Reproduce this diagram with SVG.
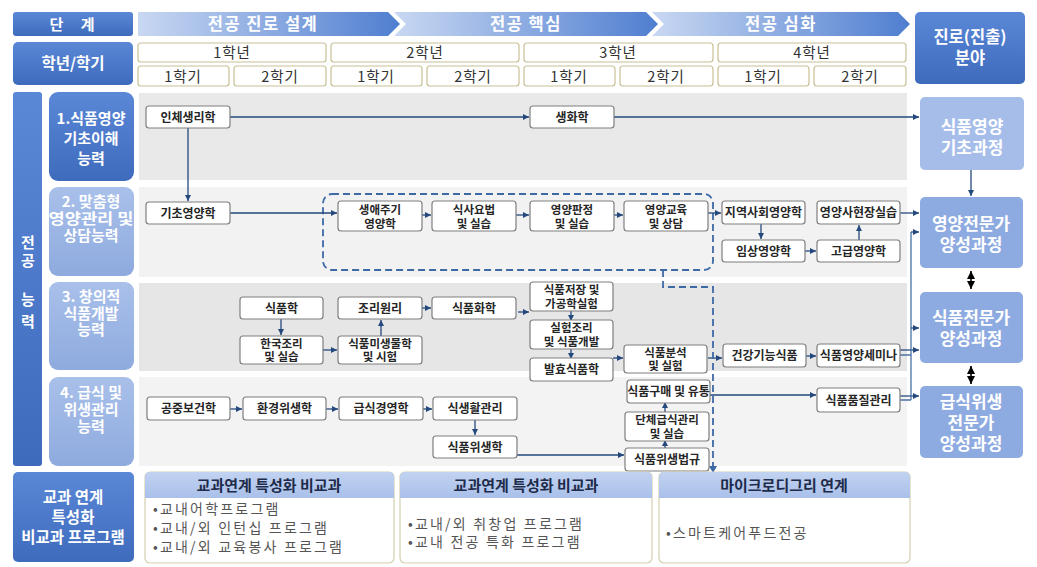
<svg xmlns="http://www.w3.org/2000/svg" width="1037" height="567" viewBox="0 0 1037 567">
<defs>
<style>
.t{font-family:"Noto Sans CJK KR","Noto Sans",sans-serif}
.nb rect{fill:#fff;stroke:#7f7f7f;stroke-width:1.2}
.nt{font-family:"Noto Sans CJK KR","Noto Sans",sans-serif;font-size:12px;font-weight:bold;fill:#262626;text-anchor:middle}
.n2{font-size:11.5px}
.hd{font-family:"Noto Sans CJK KR","Noto Sans",sans-serif;font-weight:bold;fill:#fff;text-anchor:middle}
.yr rect{fill:#fff;stroke:#c9c095;stroke-width:1.2}
.yt{font-family:"Noto Sans CJK KR","Noto Sans",sans-serif;font-size:14.5px;fill:#333;text-anchor:middle;letter-spacing:1px}
.ar{fill:none;stroke:#24497d;stroke-width:1.3;marker-end:url(#ah)}
.bk{fill:none;stroke:#000;stroke-width:1.6;marker-end:url(#bh);marker-start:url(#bs)}
.ds{fill:none;stroke:#3d69a6;stroke-width:1.8;stroke-dasharray:7 4}
.bl{font-family:"Noto Sans CJK KR","Noto Sans",sans-serif;font-size:14px;fill:#555;letter-spacing:2.2px}
.ph{font-family:"Noto Sans CJK KR","Noto Sans",sans-serif;font-size:15px;font-weight:bold;fill:#1e2b4a;text-anchor:middle}
</style>
<linearGradient id="dk" x1="0" y1="0" x2="0" y2="1"><stop offset="0" stop-color="#5a87d6"/><stop offset="1" stop-color="#3f6bbd"/></linearGradient>
<linearGradient id="lt" x1="0" y1="0" x2="0" y2="1"><stop offset="0" stop-color="#a9c0ea"/><stop offset="1" stop-color="#8eaade"/></linearGradient>
<linearGradient id="bd" x1="0" y1="0" x2="1" y2="0"><stop offset="0" stop-color="#c9d8f2"/><stop offset="1" stop-color="#4f7ed0"/></linearGradient>
<linearGradient id="ph" x1="0" y1="0" x2="0" y2="1"><stop offset="0" stop-color="#c2d3f1"/><stop offset="1" stop-color="#a9c0ea"/></linearGradient>
<marker id="ah" viewBox="0 0 10 10" refX="10" refY="5" markerWidth="7" markerHeight="6" markerUnits="userSpaceOnUse" orient="auto"><path d="M0,0 L10,5 L0,10 z" fill="#24497d"/></marker>
<marker id="bh" viewBox="0 0 10 10" refX="10" refY="5" markerWidth="8" markerHeight="8" markerUnits="userSpaceOnUse" orient="auto"><path d="M0,0 L10,5 L0,10 z" fill="#000"/></marker>
<marker id="bs" viewBox="0 0 10 10" refX="0" refY="5" markerWidth="8" markerHeight="8" markerUnits="userSpaceOnUse" orient="auto"><path d="M10,0 L0,5 L10,10 z" fill="#000"/></marker>
</defs>
<rect width="1037" height="567" fill="#fff"/>

<g id="header">
<rect x="13" y="12" width="120" height="24" rx="3" fill="url(#dk)"/>
<text class="hd" x="72" y="30" font-size="15" word-spacing="14">단 계</text>
<polygon points="138,12 388,12 400,24 388,36 138,36" fill="url(#bd)"/>
<polygon points="394,12 646,12 658,24 646,36 394,36 406,24" fill="url(#bd)"/>
<polygon points="652,12 898,12 910,24 898,36 652,36 664,24" fill="url(#bd)"/>
<text class="hd" x="263" y="30" font-size="16.5" letter-spacing="1.5">전공 진로 설계</text>
<text class="hd" x="526" y="30" font-size="16.5" letter-spacing="1.5">전공 핵심</text>
<text class="hd" x="781" y="30" font-size="16.5" letter-spacing="1.5">전공 심화</text>
<rect x="13" y="42" width="120" height="43" rx="5" fill="url(#dk)"/>
<text class="hd" x="73" y="69" font-size="15.5">학년/학기</text>
<rect x="915" y="12" width="110" height="72" rx="5" fill="url(#dk)"/>
<text class="hd" x="970" y="43" font-size="16.5">진로(진출)</text>
<text class="hd" x="970" y="64" font-size="16.5">분야</text>
</g>

<g id="years" class="yr">
<rect x="138" y="43" width="188" height="19" rx="3"/><rect x="331" y="43" width="188" height="19" rx="3"/><rect x="524" y="43" width="189" height="19" rx="3"/><rect x="718" y="43" width="188" height="19" rx="3"/>
<rect x="138" y="66" width="91" height="20" rx="3"/><rect x="234" y="66" width="92" height="20" rx="3"/>
<rect x="331" y="66" width="91" height="20" rx="3"/><rect x="427" y="66" width="92" height="20" rx="3"/>
<rect x="524" y="66" width="91" height="20" rx="3"/><rect x="620" y="66" width="93" height="20" rx="3"/>
<rect x="718" y="66" width="91" height="20" rx="3"/><rect x="814" y="66" width="92" height="20" rx="3"/>
<text class="yt" x="232" y="58">1학년</text><text class="yt" x="425" y="58">2학년</text><text class="yt" x="618" y="58">3학년</text><text class="yt" x="812" y="58">4학년</text>
<text class="yt" x="183" y="82">1학기</text><text class="yt" x="280" y="82">2학기</text>
<text class="yt" x="376" y="82">1학기</text><text class="yt" x="473" y="82">2학기</text>
<text class="yt" x="569" y="82">1학기</text><text class="yt" x="666" y="82">2학기</text>
<text class="yt" x="763" y="82">1학기</text><text class="yt" x="860" y="82">2학기</text>
</g>

<g id="rows">
<rect x="139" y="93" width="768" height="87" fill="#e9e9e9"/>
<rect x="139" y="187" width="768" height="90" fill="#f2f2f2"/>
<rect x="139" y="283" width="768" height="88" fill="#e6e6e6"/>
<rect x="139" y="377" width="768" height="89" fill="#f3f3f3"/>
</g>

<g id="competency">
<rect x="13" y="92" width="29" height="374" rx="3" fill="url(#dk)"/>
<text class="hd" x="28" y="248" font-size="15">전</text>
<text class="hd" x="28" y="266" font-size="15">공</text>
<text class="hd" x="28" y="305" font-size="15">능</text>
<text class="hd" x="28" y="327" font-size="15">력</text>
</g>

<g id="row-labels">
<rect x="49" y="92" width="85" height="89" rx="9" fill="url(#dk)"/>
<text class="hd" font-size="15"><tspan x="91" y="124">1.식품영양</tspan><tspan x="91" y="144">기초이해</tspan><tspan x="91" y="164">능력</tspan></text>
<rect x="49" y="187" width="85" height="89" rx="9" fill="url(#lt)"/>
<text class="hd" font-size="15"><tspan x="91" y="207">2. 맞춤형</tspan><tspan x="91" y="224" textLength="85" lengthAdjust="spacingAndGlyphs">영양관리 및</tspan><tspan x="91" y="241">상담능력</tspan></text>
<rect x="49" y="282" width="85" height="88" rx="9" fill="url(#lt)"/>
<text class="hd" font-size="15"><tspan x="91" y="302">3. 창의적</tspan><tspan x="91" y="319">식품개발</tspan><tspan x="91" y="335">능력</tspan></text>
<rect x="49" y="377" width="85" height="89" rx="9" fill="url(#lt)"/>
<text class="hd" font-size="15"><tspan x="91" y="398">4. 급식 및</tspan><tspan x="91" y="415">위생관리</tspan><tspan x="91" y="432">능력</tspan></text>
</g>

<g id="outcomes">
<g id="o-basic"><rect x="920" y="97" width="104" height="73" rx="5" fill="#a6bdea"/>
<text class="hd" font-size="17"><tspan x="972" y="133">식품영양</tspan><tspan x="972" y="154">기초과정</tspan></text></g>
<g id="o-nutr"><rect x="920" y="197" width="103" height="71" rx="5" fill="#8eabe1"/>
<text class="hd" font-size="17"><tspan x="971" y="230">영양전문가</tspan><tspan x="971" y="251">양성과정</tspan></text></g>
<g id="o-food"><rect x="920" y="292" width="103" height="71" rx="5" fill="#8eabe1"/>
<text class="hd" font-size="17"><tspan x="971" y="324">식품전문가</tspan><tspan x="971" y="345">양성과정</tspan></text></g>
<g id="o-meal"><rect x="920" y="386" width="103" height="72" rx="5" fill="#8eabe1"/>
<text class="hd" font-size="17"><tspan x="971" y="408">급식위생</tspan><tspan x="971" y="429">전문가</tspan><tspan x="971" y="450">양성과정</tspan></text></g>
</g>

<g id="group-dashed"><rect class="ds" x="323" y="194" width="390" height="76" rx="9"/></g>

<g id="connectors">
<path class="ar" d="M230,117 H529"/>
<path class="ar" d="M614,117 H919"/>
<path class="ar" d="M188,128 V201"/>
<path class="ar" d="M230,213 H337"/>
<path class="ar" d="M422,215 H431"/>
<path class="ar" d="M516,215 H529"/>
<path class="ar" d="M614,215 H623"/>
<path class="ar" d="M708,213 H721"/>
<path class="ar" d="M761,224 V239"/>
<path class="ar" d="M805,251 H816"/>
<path class="ar" d="M859,240 V225"/>
<path class="ar" d="M900,213 H919"/>
<path class="ar" d="M281,319 V335"/>
<path class="ar" d="M323,350 H337"/>
<path class="ar" d="M381,336 V320"/>
<path class="ar" d="M422,308 H431"/>
<path class="ar" d="M518,312 H529"/>
<path class="ar" d="M571,309 V321"/>
<path class="ar" d="M571,347 V359"/>
<path class="ar" d="M613,358 H623"/>
<path class="ar" d="M708,358 H722"/>
<path class="ar" d="M806,356 H816"/>
<path class="ar" d="M230,409 H242"/>
<path class="ar" d="M326,409 H338"/>
<path class="ar" d="M423,409 H432"/>
<path class="ar" d="M475,420 V435"/>
<path class="ar" d="M517,455 H624"/>
<path class="ar" d="M665,448 V440"/>
<path class="ar" d="M665,412 V402"/>
<path class="ar" d="M710,395 H816"/>
<path class="ar" d="M900,350 H919"/>
<path class="ar" d="M900,396 H919"/>
<path fill="none" stroke="#4a72a8" stroke-width="1.3" d="M900,355 H911 M900,400 H911 M911,232 V400"/>
<path class="ar" d="M911,232 H919"/>
<path class="ar" d="M911,328 H919"/>
<path class="ar" d="M971,170 V196"/>
<path class="bk" d="M971,271 V289"/>
<path class="bk" d="M971,366 V384"/>
<path class="ds" d="M663,270 V287 H713 V468" stroke-width="1.5"/>
<path d="M709,466 L713,473 L717,466 z" fill="#3d69a6"/>
</g>

<g id="n-inche" class="nb"><rect x="146" y="106" width="84" height="22" rx="3"/><text class="nt" x="188" y="121.5">인체생리학</text></g>
<g id="n-saengwha" class="nb"><rect x="530" y="106" width="84" height="22" rx="3"/><text class="nt" x="572" y="121.5">생화학</text></g>

<g id="n-gicho" class="nb"><rect x="146" y="202" width="84" height="22" rx="3"/><text class="nt" x="188" y="217.5">기초영양학</text></g>
<g id="n-saengae" class="nb"><rect x="338" y="201" width="84" height="30" rx="3"/><text class="nt n2"><tspan x="380" y="214">생애주기</tspan><tspan x="380" y="228">영양학</tspan></text></g>
<g id="n-siksa" class="nb"><rect x="432" y="201" width="84" height="30" rx="3"/><text class="nt n2"><tspan x="474" y="214">식사요법</tspan><tspan x="474" y="228">및 실습</tspan></text></g>
<g id="n-panjeong" class="nb"><rect x="530" y="201" width="84" height="30" rx="3"/><text class="nt n2"><tspan x="572" y="214">영양판정</tspan><tspan x="572" y="228">및 실습</tspan></text></g>
<g id="n-gyoyuk" class="nb"><rect x="624" y="201" width="84" height="30" rx="3"/><text class="nt n2"><tspan x="666" y="214">영양교육</tspan><tspan x="666" y="228">및 상담</tspan></text></g>
<g id="n-jiyeok" class="nb"><rect x="722" y="201" width="83" height="23" rx="3"/><text class="nt" x="763.5" y="217">지역사회영양학</text></g>
<g id="n-hyeonjang" class="nb"><rect x="817" y="201" width="83" height="23" rx="3"/><text class="nt" x="858.5" y="217">영양사현장실습</text></g>
<g id="n-imsang" class="nb"><rect x="722" y="240" width="83" height="22" rx="3"/><text class="nt" x="763.5" y="255.5">임상영양학</text></g>
<g id="n-gogeup" class="nb"><rect x="817" y="240" width="83" height="22" rx="3"/><text class="nt" x="858.5" y="255.5">고급영양학</text></g>

<g id="n-sikpum" class="nb"><rect x="240" y="297" width="83" height="22" rx="3"/><text class="nt" x="281.5" y="312.5">식품학</text></g>
<g id="n-jori" class="nb"><rect x="338" y="297" width="84" height="22" rx="3"/><text class="nt" x="380" y="312.5">조리원리</text></g>
<g id="n-hwahak" class="nb"><rect x="432" y="297" width="84" height="22" rx="3"/><text class="nt" x="474" y="312.5">식품화학</text></g>
<g id="n-hanguk" class="nb"><rect x="240" y="336" width="83" height="28" rx="3"/><text class="nt n2"><tspan x="281.5" y="348">한국조리</tspan><tspan x="281.5" y="361">및 실습</tspan></text></g>
<g id="n-misaeng" class="nb"><rect x="338" y="336" width="84" height="28" rx="3"/><text class="nt n2"><tspan x="380" y="348">식품미생물학</tspan><tspan x="380" y="361">및 시험</tspan></text></g>
<g id="n-jeojang" class="nb"><rect x="530" y="282" width="83" height="29" rx="3"/><text class="nt n2"><tspan x="571.5" y="294">식품저장 및</tspan><tspan x="571.5" y="308">가공학실험</tspan></text></g>
<g id="n-silheom" class="nb"><rect x="530" y="320" width="83" height="29" rx="3"/><text class="nt n2"><tspan x="571.5" y="332">실험조리</tspan><tspan x="571.5" y="346">및 식품개발</tspan></text></g>
<g id="n-balhyo" class="nb"><rect x="530" y="358" width="83" height="23" rx="3"/><text class="nt" x="571.5" y="374">발효식품학</text></g>
<g id="n-bunseok" class="nb"><rect x="624" y="345" width="83" height="28" rx="3"/><text class="nt n2"><tspan x="665.5" y="357">식품분석</tspan><tspan x="665.5" y="370">및 실험</tspan></text></g>
<g id="n-geongang" class="nb"><rect x="723" y="344" width="83" height="23" rx="3"/><text class="nt" x="764.5" y="360">건강기능식품</text></g>
<g id="n-semina" class="nb"><rect x="817" y="344" width="83" height="23" rx="3"/><text class="nt" x="858.5" y="360">식품영양세미나</text></g>

<g id="n-gongjung" class="nb"><rect x="147" y="397" width="83" height="23" rx="3"/><text class="nt" x="188.5" y="413">공중보건학</text></g>
<g id="n-hwangyeong" class="nb"><rect x="243" y="397" width="83" height="23" rx="3"/><text class="nt" x="284.5" y="413">환경위생학</text></g>
<g id="n-geupsik" class="nb"><rect x="339" y="397" width="84" height="23" rx="3"/><text class="nt" x="381" y="413">급식경영학</text></g>
<g id="n-siksaenghwal" class="nb"><rect x="433" y="397" width="84" height="23" rx="3"/><text class="nt" x="475" y="413">식생활관리</text></g>
<g id="n-wisaeng" class="nb"><rect x="433" y="436" width="84" height="22" rx="3"/><text class="nt" x="475" y="451.5">식품위생학</text></g>
<g id="n-gumae" class="nb"><rect x="627" y="380" width="83" height="23" rx="3"/><text class="nt" x="668.5" y="396">식품구매 및 유통</text></g>
<g id="n-danche" class="nb"><rect x="625" y="412" width="84" height="29" rx="3"/><text class="nt n2"><tspan x="667" y="424">단체급식관리</tspan><tspan x="667" y="438">및 실습</tspan></text></g>
<g id="n-beopgyu" class="nb"><rect x="625" y="448" width="84" height="23" rx="3"/><text class="nt" x="667" y="464">식품위생법규</text></g>
<g id="n-pumjil" class="nb"><rect x="817" y="388" width="83" height="24" rx="3"/><text class="nt" x="858.5" y="404.5">식품품질관리</text></g>

<g id="extra">
<rect x="13" y="472" width="121" height="90" rx="5" fill="url(#dk)"/>
<text class="hd" font-size="15.5"><tspan x="73" y="503">교과 연계</tspan><tspan x="73" y="523">특성화</tspan><tspan x="73" y="543">비교과 프로그램</tspan></text>
</g>
<g id="panel-1">
<rect x="145" y="472" width="249" height="91" rx="5" fill="#fff" stroke="#d4cfae" stroke-width="1.2"/>
<path d="M145,498 V477 Q145,472 150,472 H389 Q394,472 394,477 V498 Z" fill="url(#ph)"/>
<text class="ph" x="269" y="491">교과연계 특성화 비교과</text>
<text class="bl"><tspan x="153" y="514">•교내어학프로그램</tspan><tspan x="153" y="533">•교내/외 인턴십 프로그램</tspan><tspan x="153" y="552">•교내/외 교육봉사 프로그램</tspan></text>
</g>
<g id="panel-2">
<rect x="400" y="472" width="252" height="91" rx="5" fill="#fff" stroke="#d4cfae" stroke-width="1.2"/>
<path d="M400,498 V477 Q400,472 405,472 H647 Q652,472 652,477 V498 Z" fill="url(#ph)"/>
<text class="ph" x="526" y="491">교과연계 특성화 비교과</text>
<text class="bl"><tspan x="408" y="529">•교내/외 취창업 프로그램</tspan><tspan x="408" y="547">•교내 전공 특화 프로그램</tspan></text>
</g>
<g id="panel-3">
<rect x="659" y="472" width="251" height="91" rx="5" fill="#fff" stroke="#d4cfae" stroke-width="1.2"/>
<path d="M659,498 V477 Q659,472 664,472 H905 Q910,472 910,477 V498 Z" fill="url(#ph)"/>
<text class="ph" x="784" y="491">마이크로디그리 연계</text>
<text class="bl"><tspan x="666" y="538">•스마트케어푸드전공</tspan></text>
</g>
</svg>
